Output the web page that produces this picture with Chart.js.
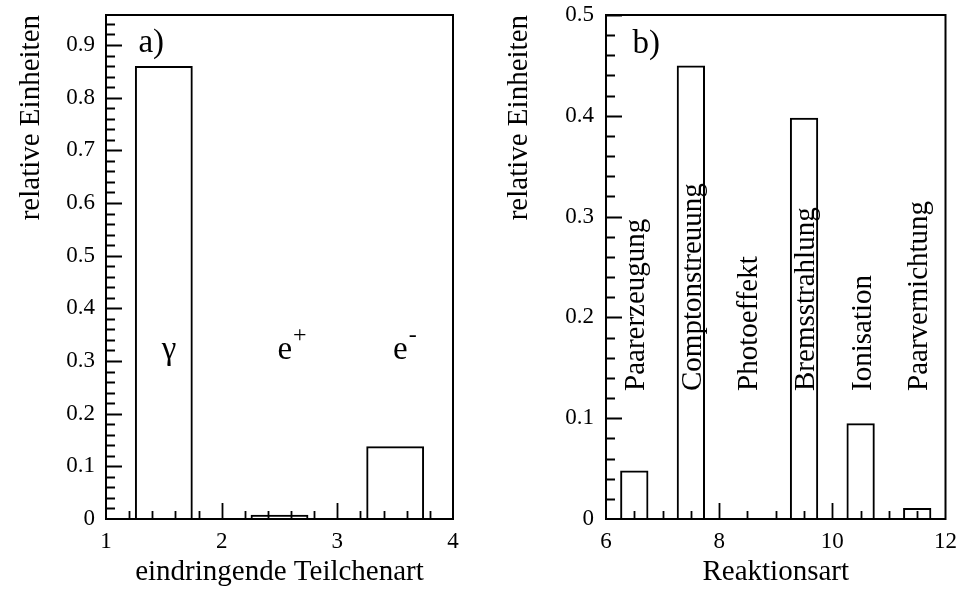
<!DOCTYPE html>
<html>
<head>
<meta charset="utf-8">
<script src="https://cdn.jsdelivr.net/npm/chart.js@4"></script>
<style>
  html, body { margin: 0; padding: 0; background: #fff; }
  #wrap { position: relative; width: 966px; height: 592px; }
  .box { position: absolute; top: 0; width: 483px; height: 592px; }
  canvas { display: block; }
</style>
</head>
<body>
<div id="wrap">
  <div class="box" style="left:0"><canvas id="chartA" width="483" height="592"></canvas></div>
  <div class="box" style="left:483px"><canvas id="chartB" width="483" height="592"></canvas></div>
</div>
<script>
// a) eindringende Teilchenart
const particleNames = ['γ', 'e', 'e'];
const particleSup = ['', '+', '-'];
const particleX = [1.5, 2.5, 3.5];
const particleValues = [0.86, 0.008, 0.138];

// b) Reaktionsart
const reactionNames = ['Paarerzeugung', 'Comptonstreuung', 'Photoeffekt', 'Bremsstrahlung', 'Ionisation', 'Paarvernichtung'];
const reactionX = [6.5, 7.5, 8.5, 9.5, 10.5, 11.5];
const reactionValues = [0.048, 0.450, 0.001, 0.398, 0.095, 0.011];

const SERIF = '"Liberation Serif", "DejaVu Serif", serif';
Chart.defaults.font.family = SERIF;
Chart.defaults.color = '#000';

// frame + inward tick marks
const frameTicks = {
  id: 'frameTicks',
  afterDraw(chart, args, opts) {
    const { ctx, chartArea: a, scales: { x, y } } = chart;
    ctx.save();
    ctx.strokeStyle = '#000';
    ctx.lineWidth = 2;
    ctx.strokeRect(a.left, a.top, a.right - a.left, a.bottom - a.top);
    ctx.lineWidth = 1.8;
    ctx.beginPath();
    const nx = Math.round((x.max - x.min) / opts.xMinor);
    for (let i = 1; i < nx; i++) {
      const v = x.min + i * opts.xMinor;
      const px = Math.round(x.getPixelForValue(v)) + 0.5;
      const major = Math.abs(v / opts.xMajor - Math.round(v / opts.xMajor)) < 1e-6;
      ctx.moveTo(px, a.bottom);
      ctx.lineTo(px, a.bottom - (major ? 16 : 8));
    }
    const ny = Math.floor((y.max - y.min) / opts.yMinor + 1e-6);
    for (let i = 1; i <= ny; i++) {
      const v = y.min + i * opts.yMinor;
      const py = Math.round(y.getPixelForValue(v)) + 0.5;
      const major = Math.abs(v / opts.yMajor - Math.round(v / opts.yMajor)) < 1e-6;
      ctx.moveTo(a.left, py);
      ctx.lineTo(a.left + (major ? 16 : 9), py);
    }
    ctx.stroke();
    ctx.restore();
  }
};

// texts inside the plot
const plotTexts = {
  id: 'plotTexts',
  afterDraw(chart, args, opts) {
    const { ctx, scales: { x, y } } = chart;
    ctx.save();
    ctx.fillStyle = '#000';
    ctx.textBaseline = 'alphabetic';
    ctx.font = '33px ' + SERIF;
    ctx.textAlign = 'left';
    ctx.fillText(opts.tag, x.getPixelForValue(opts.tagX), y.getPixelForValue(opts.tagY));
    if (opts.kind === 'particles') {
      particleNames.forEach((n, i) => {
        const px = x.getPixelForValue(particleX[i] + 0.045);
        const py = y.getPixelForValue(0.304);
        ctx.font = '33px ' + SERIF;
        ctx.textAlign = 'center';
        ctx.fillText(n, px, py);
        if (particleSup[i]) {
          const w = ctx.measureText(n).width;
          ctx.font = '24px ' + SERIF;
          ctx.textAlign = 'left';
          ctx.fillText(particleSup[i], px + w / 2 + 1, py - 17);
        }
      });
    } else {
      ctx.font = '29px ' + SERIF;
      ctx.textAlign = 'left';
      reactionNames.forEach((n, i) => {
        const px = x.getPixelForValue(reactionX[i]) + 10;
        const py = y.getPixelForValue(0.127);
        ctx.save();
        ctx.translate(px, py);
        ctx.rotate(-Math.PI / 2);
        ctx.fillText(n, 0, 0);
        ctx.restore();
      });
    }
    ctx.restore();
  }
};

function makeChart(id, xs, ys, o) {
  return new Chart(document.getElementById(id), {
    type: 'bar',
    data: {
      datasets: [{
        data: xs.map((v, i) => ({ x: v, y: ys[i] })),
        backgroundColor: 'rgba(255,255,255,0)',
        borderColor: '#000',
        borderWidth: 2,
        borderSkipped: 'bottom',
        categoryPercentage: 1,
        barPercentage: 0.5
      }]
    },
    options: {
      responsive: false,
      animation: false,
      layout: { autoPadding: false, padding: { top: 15, right: o.padRight, left: 0, bottom: 0 } },
      plugins: {
        legend: { display: false },
        tooltip: { enabled: false },
        frameTicks: o.ticks,
        plotTexts: o.texts
      },
      scales: {
        x: {
          type: 'linear',
          min: o.xMin, max: o.xMax,
          offset: false,
          grid: { display: false, drawTicks: false },
          border: { display: false },
          ticks: { stepSize: o.xStep, padding: 9, font: { size: 23 }, maxRotation: 0, autoSkip: false },
          title: { display: true, text: o.xTitle, font: { size: 29 }, padding: { top: 0, bottom: 2 } },
          afterFit(s) { s.height = 73; }
        },
        y: {
          min: 0, max: o.yMax,
          grid: { display: false, drawTicks: false },
          border: { display: false },
          ticks: { stepSize: 0.1, padding: o.yPad, font: { size: 23, lineHeight: 0.2 }, includeBounds: false },
          title: { display: true, text: 'relative Einheiten', align: 'end', font: { size: 29 }, padding: { top: o.titlePad, bottom: 0 } },
          afterFit(s) { s.width = o.yWidth; }
        }
      }
    },
    plugins: [frameTicks, plotTexts]
  });
}

makeChart('chartA', particleX, particleValues, {
  padRight: 30, yWidth: 106, yPad: 11, titlePad: 14,
  xMin: 1, xMax: 4, xStep: 1, yMax: 0.957,
  xTitle: 'eindringende Teilchenart',
  ticks: { xMinor: 0.2, xMajor: 1, yMinor: 0.02, yMajor: 0.1 },
  texts: { kind: 'particles', tag: 'a)', tagX: 1.28, tagY: 0.886 }
});

makeChart('chartB', reactionX, reactionValues, {
  padRight: 13, yWidth: 123, yPad: 12, titlePad: 19,
  xMin: 6, xMax: 12, xStep: 2, yMax: 0.5,
  xTitle: 'Reaktionsart',
  ticks: { xMinor: 0.5, xMajor: 2, yMinor: 0.02, yMajor: 0.1 },
  texts: { kind: 'reactions', tag: 'b)', tagX: 6.47, tagY: 0.462 }
});
</script>
</body>
</html>
